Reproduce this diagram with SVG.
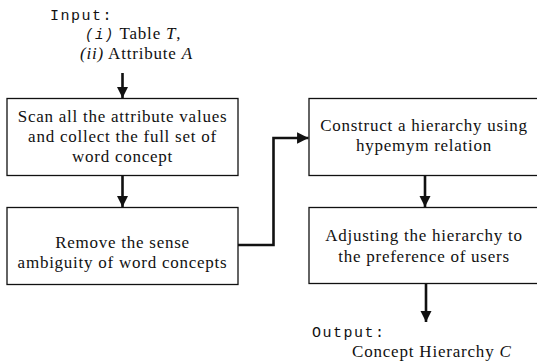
<svg xmlns="http://www.w3.org/2000/svg" width="537" height="363" viewBox="0 0 537 363">
  <style>
    .box { fill: #fff; stroke: #111; stroke-width: 1.3; }
    .lbl { font-family: "Liberation Serif", "Times New Roman", serif; font-size: 17px; fill: #111; text-anchor: middle; letter-spacing: 0.75px; }
    .io { font-family: "Liberation Mono", "Courier New", monospace; font-size: 15px; fill: #111; letter-spacing: 1.5px; }
    .io2 { font-family: "Liberation Serif", "Times New Roman", serif; font-size: 17px; fill: #111; letter-spacing: 0.8px; }
    .mono-i { font-family: "Liberation Mono", "Courier New", monospace; font-size: 14px; font-style: italic; letter-spacing: 1.5px; }
    .wire { fill: none; stroke: #111; stroke-width: 2.6; }
  </style>
  <defs>
    <marker id="head" viewBox="0 0 10 10" refX="10" refY="5" markerWidth="4.4" markerHeight="4.4" markerUnits="strokeWidth" orient="auto">
      <path d="M0,0 L10,5 L0,10 Z" fill="#111"/>
    </marker>
  </defs>

  <!-- input description -->
  <g id="input">
    <text class="io" x="50" y="20">Input:</text>
    <text class="io2" x="85" y="39"><tspan class="mono-i">(i)</tspan> Table <tspan font-style="italic">T</tspan>,</text>
    <text class="io2" x="80" y="59"><tspan font-style="italic">(ii)</tspan> Attribute <tspan font-style="italic">A</tspan></text>
  </g>

  <!-- step nodes -->
  <g id="scan">
    <rect class="box" x="7" y="98.5" width="231" height="77"/>
    <text class="lbl" x="122.5" y="122">Scan all the attribute values</text>
    <text class="lbl" x="122.5" y="142">and collect the full set of</text>
    <text class="lbl" x="122.5" y="162">word concept</text>
  </g>
  <g id="disambiguate">
    <rect class="box" x="7" y="207.5" width="231" height="77"/>
    <text class="lbl" x="122.5" y="248">Remove the sense</text>
    <text class="lbl" x="122.5" y="268">ambiguity of word concepts</text>
  </g>
  <g id="construct">
    <rect class="box" x="309" y="98.5" width="235" height="77"/>
    <text class="lbl" x="424" y="131">Construct a hierarchy using</text>
    <text class="lbl" x="424" y="151">hypemym relation</text>
  </g>
  <g id="adjust">
    <rect class="box" x="309" y="207.5" width="235" height="76"/>
    <text class="lbl" x="424" y="241">Adjusting the hierarchy to</text>
    <text class="lbl" x="424" y="262">the preference of users</text>
  </g>

  <!-- output description -->
  <g id="output">
    <text class="io" x="312" y="337">Output:</text>
    <text class="io2" x="352" y="357">Concept Hierarchy <tspan font-style="italic">C</tspan></text>
  </g>

  <!-- connectors -->
  <g id="connectors">
    <line class="wire" x1="122.5" y1="73" x2="122.5" y2="98" marker-end="url(#head)"/>
    <line class="wire" x1="122.5" y1="176" x2="122.5" y2="207" marker-end="url(#head)"/>
    <polyline class="wire" points="238,245 273.5,245 273.5,138 308.5,138" marker-end="url(#head)"/>
    <line class="wire" x1="425" y1="176" x2="425" y2="207" marker-end="url(#head)"/>
    <line class="wire" x1="426" y1="284" x2="426" y2="322" marker-end="url(#head)"/>
  </g>
</svg>
